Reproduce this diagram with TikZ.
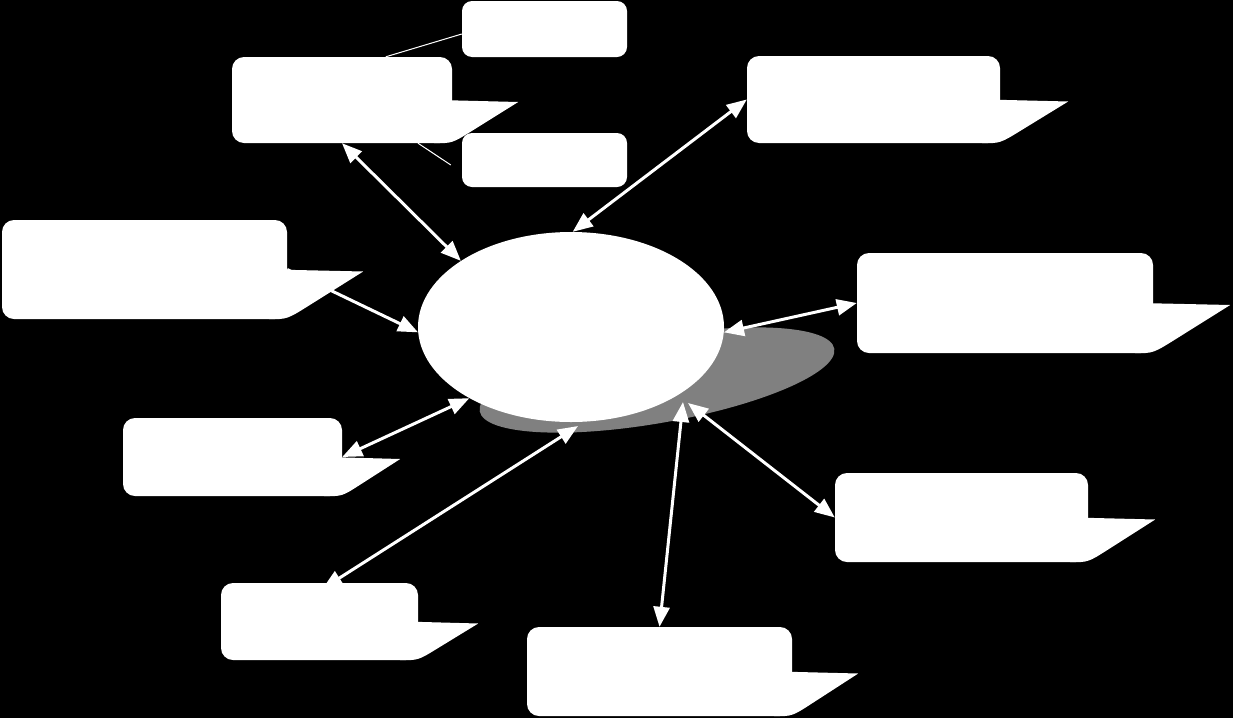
\documentclass[tikz,border=0pt]{standalone}
\usepackage{tikz}
\usetikzlibrary{shapes.geometric,arrows.meta,calc}

% tail of a speech box: node name, length of the tip
\newcommand{\calltail}[2]{%
	\fill [white] ($(#1.east)+(-14,0)$) -- ($(#1.east)+(#2,2)$) coordinate (#1tip)
		-- ($(#1.south east)!0.3!(#1tip)$)
		.. controls (#1.south east) .. ($(#1.south east)+(-18,0)$)
		-- cycle ;}

\begin{document}
\begin{tikzpicture}[x=1pt,y=-1pt,
	callbox/.style={fill=white,rounded corners=12pt,inner sep=0pt},
	notebox/.style={fill=white,rounded corners=10pt,inner sep=0pt},
	twoway/.style={white,line width=3pt,{Triangle[length=20pt,width=16pt]}-{Triangle[length=20pt,width=16pt]}},
	oneway/.style={white,line width=3pt,-{Triangle[length=20pt,width=16pt]}},
	leader/.style={white,line width=1pt}]
	\fill [black] (0,0) rectangle (1233,718) ;
	% hub and its shadow
	\fill [white!50!black,rotate around={10:(657,380)}] (657,380) ellipse [x radius=180,y radius=43] ;
	\node [ellipse,fill=white,inner sep=0pt,minimum width=306pt,minimum height=190pt] (hub) at (571,327) {} ;
	% boxes
	\node [callbox,minimum width=220pt,minimum height=86pt] (boxNW) at (342,100) {} ;
	\calltail{boxNW}{66}
	\node [notebox,minimum width=165pt,minimum height=56pt] (tagN) at (544.5,29) {} ;
	\node [notebox,minimum width=165pt,minimum height=54pt] (tagS) at (544.5,160) {} ;
	\node [callbox,minimum width=253pt,minimum height=87pt] (boxNE) at (873.5,99.5) {} ;
	\calltail{boxNE}{68}
	\node [callbox,minimum width=285pt,minimum height=99pt] (boxW) at (144.5,269.5) {} ;
	\calltail{boxW}{76}
	\node [callbox,minimum width=296pt,minimum height=100pt] (boxE) at (1005,303) {} ;
	\calltail{boxE}{77}
	\node [callbox,minimum width=219pt,minimum height=78pt] (boxSW) at (232.5,457) {} ;
	\calltail{boxSW}{58}
	\node [callbox,minimum width=253pt,minimum height=89pt] (boxSE) at (961.5,517.5) {} ;
	\calltail{boxSE}{67}
	\node [callbox,minimum width=197pt,minimum height=77pt] (boxSSW) at (319.5,621.5) {} ;
	\calltail{boxSSW}{60}
	\node [callbox,minimum width=265pt,minimum height=89pt] (boxS) at (659.5,671.5) {} ;
	\calltail{boxS}{66}
	% leaders to the two notes
	\draw [leader] ($(tagN.west)+(0,5)$) -- ($(boxNW.north west)+(154,0)$) ;
	\draw [leader] ($(boxNW.south)+(76,0)$) -- ($(tagS.west)+(-11,5)$) ;
	% arrows
	\coordinate (hubSSW) at (578,426) ;
	\coordinate (hubS) at (683,402) ;
	\coordinate (hubSE) at (688,403) ;
	\draw [twoway] (boxNW.south) -- (hub.149) ;
	\draw [twoway] (boxNE.west) -- (hub.89) ;
	\draw [oneway] (boxW.east) -- (hub.182) ;
	\draw [twoway] (boxE.west) -- (hub.358) ;
	\draw [twoway] (boxSW.east) -- (hub.215) ;
	\draw [twoway] ($(boxSSW.north)+(3,6)$) -- (hubSSW) ;
	\draw [twoway] (boxS.north) -- (hubS) ;
	\draw [twoway] (boxSE.west) -- (hubSE) ;
\end{tikzpicture}
\end{document}
